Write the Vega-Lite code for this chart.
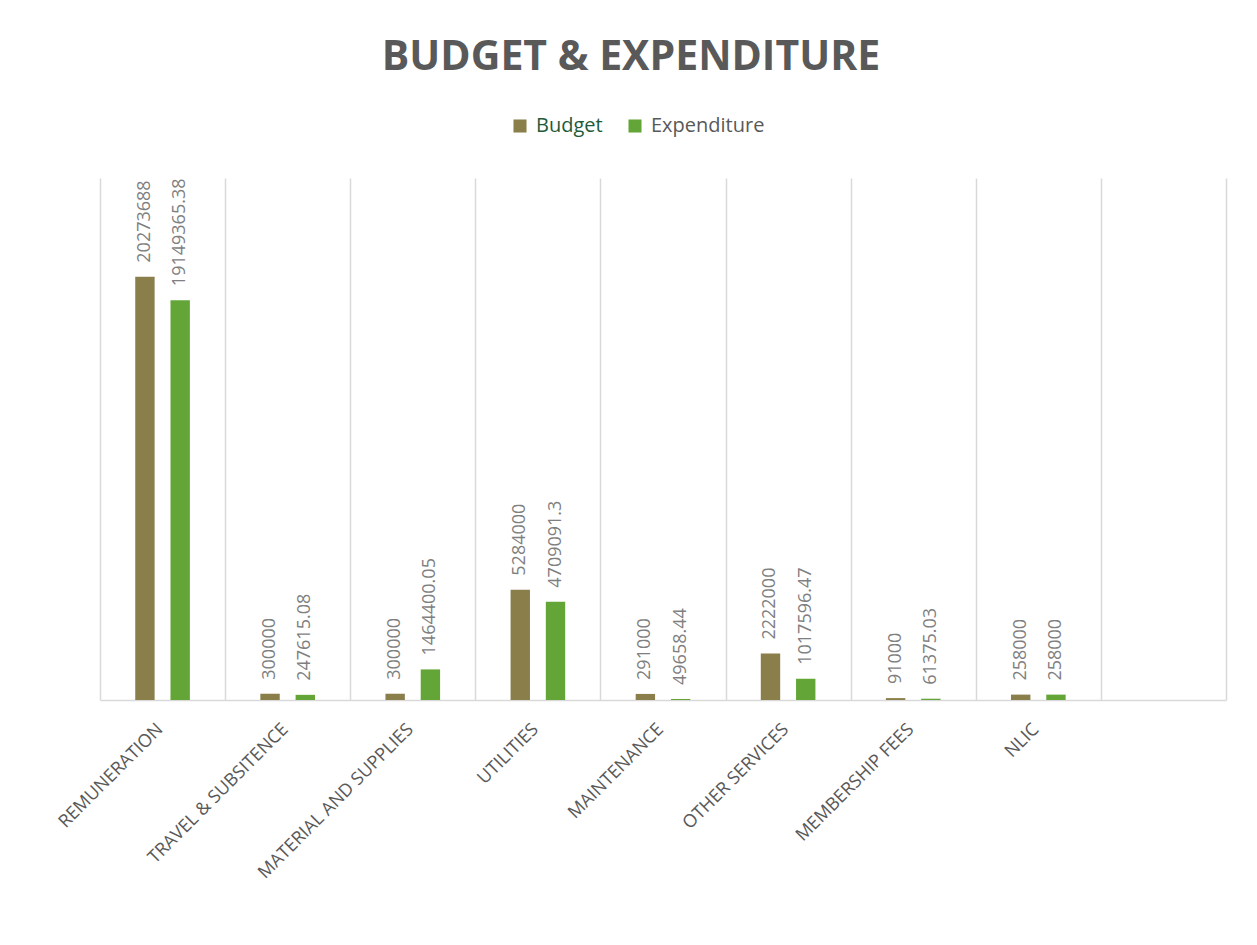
{
  "$schema": "https://vega.github.io/schema/vega-lite/v6.json",
  "width": 1126,
  "height": 522,
  "autosize": {"type": "none"},
  "padding": {"left": 100, "top": 178, "right": 31, "bottom": 245},
  "background": "white",
  "title": {
    "text": "BUDGET & EXPENDITURE",
    "font": "Open Sans",
    "fontSize": 41,
    "fontWeight": "bold",
    "color": "#595959",
    "anchor": "middle",
    "baseline": "alphabetic",
    "offset": 5,
    "dx": -32
  },
  "config": {
    "view": {"stroke": null},
    "font": "Open Sans"
  },
  "data": {
    "values": [
      {"category": "REMUNERATION", "series": "Budget", "value": 20273688},
      {"category": "REMUNERATION", "series": "Expenditure", "value": 19149365.38},
      {"category": "TRAVEL & SUBSITENCE", "series": "Budget", "value": 300000},
      {"category": "TRAVEL & SUBSITENCE", "series": "Expenditure", "value": 247615.08},
      {"category": "MATERIAL AND SUPPLIES", "series": "Budget", "value": 300000},
      {"category": "MATERIAL AND SUPPLIES", "series": "Expenditure", "value": 1464400.05},
      {"category": "UTILITIES", "series": "Budget", "value": 5284000},
      {"category": "UTILITIES", "series": "Expenditure", "value": 4709091.3},
      {"category": "MAINTENANCE", "series": "Budget", "value": 291000},
      {"category": "MAINTENANCE", "series": "Expenditure", "value": 49658.44},
      {"category": "OTHER SERVICES", "series": "Budget", "value": 2222000},
      {"category": "OTHER SERVICES", "series": "Expenditure", "value": 1017596.47},
      {"category": "MEMBERSHIP FEES", "series": "Budget", "value": 91000},
      {"category": "MEMBERSHIP FEES", "series": "Expenditure", "value": 61375.03},
      {"category": "NLIC", "series": "Budget", "value": 258000},
      {"category": "NLIC", "series": "Expenditure", "value": 258000}
    ]
  },
  "encoding": {
    "x": {
      "field": "category",
      "type": "nominal",
      "sort": null,
      "scale": {
        "domain": ["REMUNERATION", "TRAVEL & SUBSITENCE", "MATERIAL AND SUPPLIES", "UTILITIES", "MAINTENANCE", "OTHER SERVICES", "MEMBERSHIP FEES", "NLIC", " "],
        "paddingInner": 0,
        "paddingOuter": 0
      },
      "axis": {
        "title": null,
        "grid": true,
        "gridColor": "#D9D9D9",
        "gridWidth": 1.5,
        "tickBand": "extent",
        "ticks": false,
        "domainColor": "#D9D9D9",
        "domainWidth": 1.5,
        "labelAngle": -45,
        "labelFont": "Open Sans",
        "labelFontSize": 18,
        "labelColor": "#595959",
        "labelPadding": 20,
        "labelOffset": -9,
        "labelLimit": 400
      }
    },
    "xOffset": {
      "field": "series",
      "type": "nominal",
      "scale": {"paddingInner": 0.45, "paddingOuter": 1.15}
    },
    "y": {
      "field": "value",
      "type": "quantitative",
      "scale": {"domain": [0, 25000000], "nice": false},
      "axis": null
    }
  },
  "layer": [
    {
      "mark": {"type": "bar"},
      "encoding": {
        "color": {
          "field": "series",
          "type": "nominal",
          "scale": {"domain": ["Budget", "Expenditure"], "range": ["#8A7E4A", "#63A637"]},
          "legend": {
            "title": null,
            "orient": "none",
            "direction": "horizontal",
            "legendX": 410,
            "legendY": -62,
            "symbolType": "square",
            "symbolSize": 170,
            "symbolStrokeWidth": 0,
            "labelFont": "Open Sans",
            "labelFontSize": 20,
            "labelColor": "#595959",
            "columnPadding": 22,
            "labelOffset": 6,
            "encode": {
              "labels": {
                "update": {
                  "fill": {"signal": "datum.value === 'Budget' ? '#1E5B3A' : '#595959'"}
                }
              }
            }
          }
        }
      }
    },
    {
      "mark": {
        "type": "text",
        "angle": 270,
        "align": "left",
        "baseline": "middle",
        "dx": 14,
        "font": "Open Sans",
        "fontSize": 18,
        "color": "#7F7F7F"
      },
      "encoding": {
        "text": {"field": "value", "type": "quantitative", "format": ".12~g"}
      }
    }
  ]
}
